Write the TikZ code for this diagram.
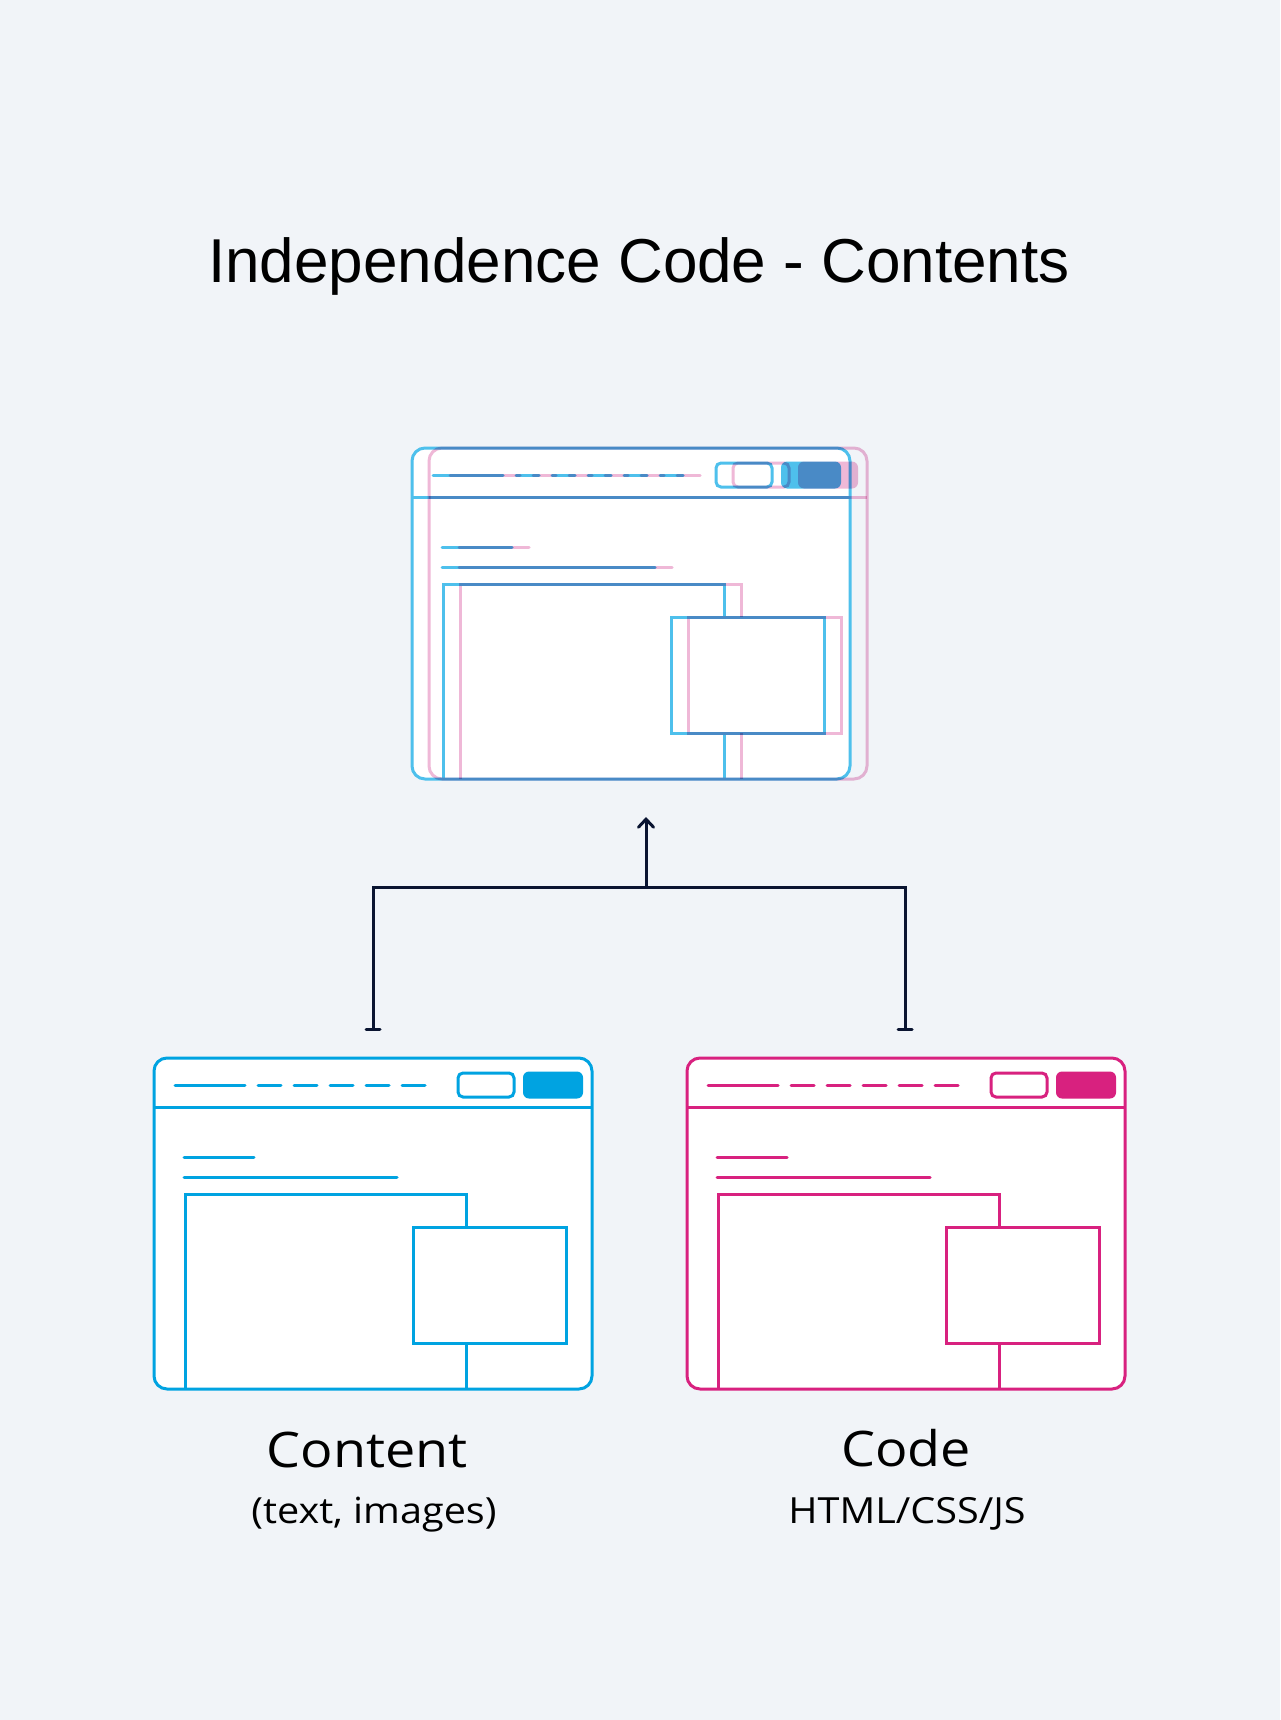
\documentclass[tikz,border=0pt]{standalone}
\usepackage{fontspec}
\setmainfont{Open Sans}
\newfontfamily\labelfont[FakeStretch=1.1]{Open Sans}
\newfontfamily\titlefont{Liberation Sans}
\usetikzlibrary{arrows.meta}

\definecolor{bg}{HTML}{F1F4F8}
\definecolor{cblue}{HTML}{00A3E1}
\definecolor{cpink}{HTML}{D8217F}
\definecolor{navy}{HTML}{0A1431}
\definecolor{lightblue}{HTML}{4EC0EC}
\definecolor{lightpink}{HTML}{EFB8D7}

\tikzset{
  stroke/.style={draw=#1, line width=3pt},
  textline/.style={draw=#1, line width=3pt, line cap=round},
  link/.style={draw=navy, line width=3pt},
  pics/browser/.style={code={
      % frame
      \draw[stroke=#1, fill=white, rounded corners=13pt] (0,0) rectangle (438,331);
      % header bar
      \draw[stroke=#1] (0,49) -- (438,49);
      \draw[textline=#1] (21,27) -- (91,27);
      \foreach \x in {104,140,176,212,248}
        \draw[textline=#1] (\x,27) -- ++(23,0);
      \draw[stroke=#1, rounded corners=5pt] (304,15) rectangle (360,39);
      \fill[#1, rounded corners=6pt] (369,13.5) rectangle (429,40.5);
      % text lines
      \draw[textline=#1] (30,99) -- (100,99);
      \draw[textline=#1] (30,119) -- (243,119);
      % images
      \draw[stroke=#1] (31,331) -- (31,136) -- (312,136) -- (312,169);
      \draw[stroke=#1] (312,285) -- (312,331);
      \draw[stroke=#1] (259,169) rectangle (412,285);
  }}
}

\begin{document}
\begin{tikzpicture}[x=1pt, y=-1pt]
  \useasboundingbox (0,0) rectangle (1280,1720);
  \fill[bg] (0,0) rectangle (1280,1720);

  % Title
  \node[font=\titlefont\fontsize{62}{70}\selectfont, anchor=base] (title) at (639,283) {Independence Code - Contents};

  % window corners
  \coordinate (mergedContent) at (412,448);
  \coordinate (mergedCode) at (429,448);
  \coordinate (content) at (154,1058);
  \coordinate (code) at (687,1058);

  % merged page
  \pic at (mergedContent) {browser=lightblue};
  \begin{scope}[blend mode=multiply]
    \pic at (mergedCode) {browser=lightpink};
  \end{scope}

  % sources
  \pic at (content) {browser=cblue};
  \pic at (code) {browser=cpink};

  % connector
  \coordinate (leftEnd) at (373,1031);
  \coordinate (rightEnd) at (905,1031);
  \coordinate (join) at (646,887);
  \coordinate (tip) at (646,817);
  \draw[link, {Bar[width=14pt, line cap=round]}-{Bar[width=14pt, line cap=round]}] (leftEnd) |- (join) -| (rightEnd);
  \draw[link, -{Straight Barb[length=8pt, width=15pt, line cap=round]}] (join) -- (tip);

  % labels
  \node[font=\labelfont\fontsize{49}{56}\selectfont, anchor=base] (contentLabel) at (367,1467) {Content};
  \node[font=\labelfont\fontsize{36}{42}\selectfont, anchor=base] (contentNote) at (374,1523) {(text, images)};
  \node[font=\labelfont\fontsize{49}{56}\selectfont, anchor=base] (codeLabel) at (906,1466) {Code};
  \node[font=\labelfont\fontsize{36}{42}\selectfont, anchor=base] (codeNote) at (907,1523) {HTML/CSS/JS};
\end{tikzpicture}
\end{document}
